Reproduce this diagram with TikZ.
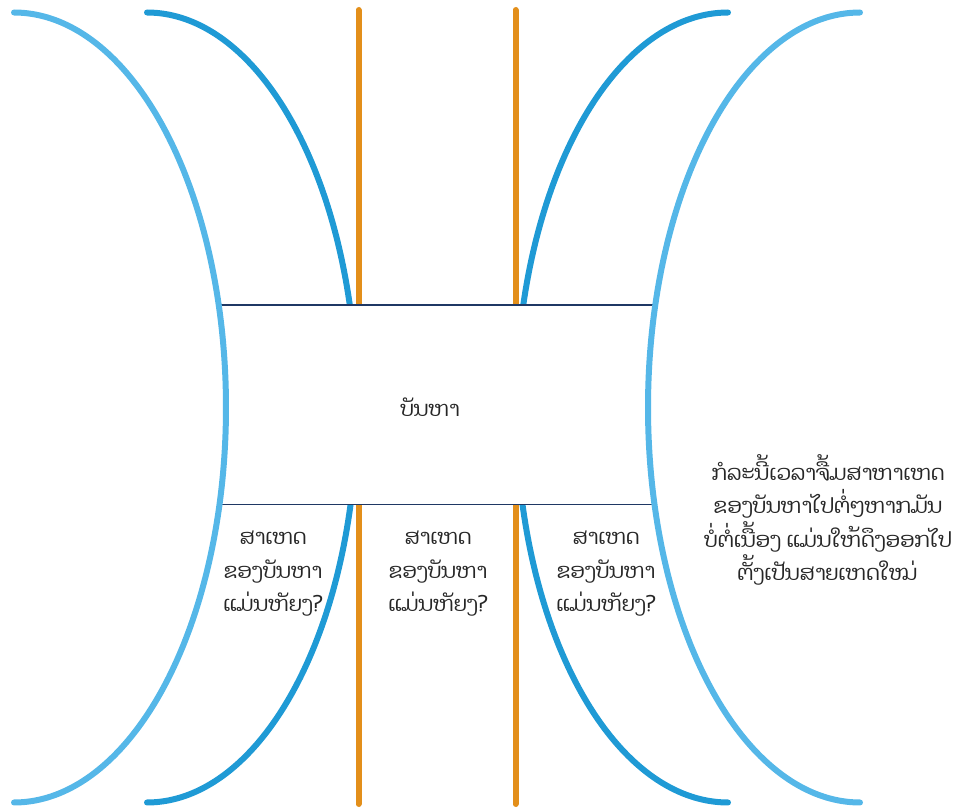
\documentclass[tikz,border=0pt]{standalone}
\usepackage{fontspec}
\newfontfamily\laofont[Script=Lao]{Dhyana}
\definecolor{lightb}{HTML}{55B7E8}
\definecolor{darkb}{HTML}{1F9AD5}
\definecolor{orng}{HTML}{E38F1A}
\definecolor{navy}{HTML}{1F3864}
\definecolor{txt}{HTML}{262626}
\begin{document}
\begin{tikzpicture}[x=1pt,y=-1pt,
  outercurve/.style={draw=lightb,line width=6pt,line cap=round},
  innercurve/.style={draw=darkb,line width=6pt,line cap=round},
  divider/.style={draw=orng,line width=6pt,line cap=round},
  edgeline/.style={draw=navy,line width=1.8pt},
  laotext/.style={text=txt,font=\laofont\fontsize{21}{33.5}\selectfont,align=center,inner sep=0pt}]
\useasboundingbox (0,0) rectangle (964,810);
% inner curves
\draw[innercurve] plot[domain=-90:90,samples=120,smooth] ({147+210*cos(\x)},{407.5+395*sin(\x)});
\draw[innercurve] plot[domain=-90:90,samples=120,smooth] ({728-212*cos(\x)},{407.5+395*sin(\x)});
% dividers
\coordinate (d1t) at (358.5,10);
\coordinate (d1b) at (358.5,804);
\coordinate (d2t) at (515.5,10);
\coordinate (d2b) at (515.5,804);
\draw[divider] (d1t) -- (d1b);
\draw[divider] (d2t) -- (d2b);
% central box
\node[fill=white,minimum width=436pt,minimum height=199pt,inner sep=0pt,anchor=north west] (box) at (219,305) {};
\draw[edgeline] (box.north west) -- (box.north east);
\draw[edgeline] (box.south west) -- (box.south east);
% outer curves
\draw[outercurve] plot[domain=-90:90,samples=120,smooth] ({14+212*cos(\x)},{407.5+395*sin(\x)});
\draw[outercurve] plot[domain=-90:90,samples=120,smooth] ({860-212*cos(\x)},{407.5+395*sin(\x)});
% texts
\node[laotext] (title) at (430,407) {ບັນຫາ};
\node[laotext] (q1) at (273,574) {ສາເຫດ\\ຂອງບັນຫາ\\ແມ່ນຫັຍງ?};
\node[laotext] (q2) at (438,574) {ສາເຫດ\\ຂອງບັນຫາ\\ແມ່ນຫັຍງ?};
\node[laotext] (q3) at (606,574) {ສາເຫດ\\ຂອງບັນຫາ\\ແມ່ນຫັຍງ?};
\node[laotext] (note) at (828,520) {ກໍລະນີ້ເວລາຈື້ມສາຫາເຫດ\\ຂອງບັນຫາໄປຕໍ່ໆຫາກມັນ\\ບໍ່ຕໍ່ເນື້ອງ ແມ່ນໃຫ້ດຶງອອກໄປ\\ຕັ້ງເປັນສາຍເຫດໃໝ່};
\end{tikzpicture}
\end{document}
